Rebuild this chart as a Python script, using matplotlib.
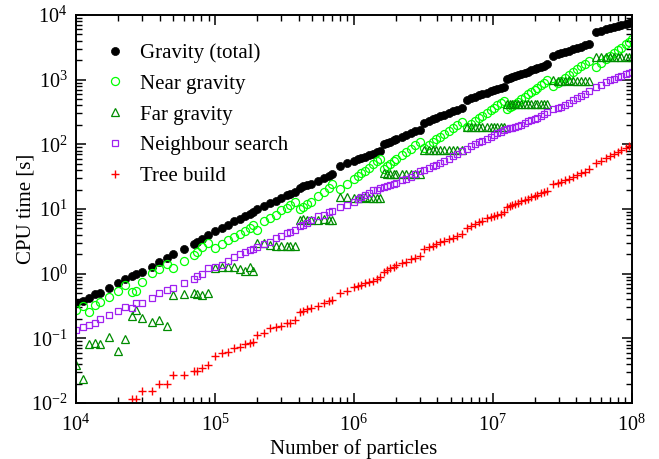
import matplotlib
matplotlib.use("Agg")
import matplotlib.pyplot as plt

plt.rcParams['font.family'] = ['Liberation Serif', 'DejaVu Serif']
plt.rcParams['mathtext.fontset'] = 'custom'
plt.rcParams['mathtext.rm'] = 'Liberation Serif'
plt.rcParams['mathtext.it'] = 'Liberation Serif:italic'
plt.rcParams['mathtext.bf'] = 'Liberation Serif:bold'

# Number of particles (shared by all series)
n_particles = [
    10000, 11180, 12470, 13710, 14890, 17380, 19980, 22550, 25120, 27200,
    30050, 35000, 39850, 45060, 49770, 59750, 70290, 74850, 80520, 89850,
    100400, 112200, 125200, 138300, 150300, 165200, 177500, 187700, 200600, 223800,
    250200, 275000, 300300, 330100, 348500, 374500, 406800, 430500, 459900, 491500,
    554900, 605900, 658200, 696400, 799000, 893300, 996700, 1065000, 1127000, 1196000,
    1279000, 1375000, 1470000, 1552000, 1640000, 1735000, 1833000, 1936000, 2025000, 2225000,
    2390000, 2584000, 2775000, 2980000, 3222000, 3460000, 3698000, 3932000, 4202000, 4491000,
    4824000, 5150000, 5543000, 5955000, 6470000, 6913000, 7424000, 7934000, 8395000, 9016000,
    9634000, 10180000, 10770000, 11370000, 12010000, 12710000, 13270000, 13810000, 14420000, 15150000,
    16030000, 16940000, 17890000, 18930000, 20000000, 20910000, 22090000, 23330000, 24690000, 27280000,
    29430000, 30780000, 32890000, 35330000, 38010000, 40620000, 42900000, 45830000, 49230000, 55050000,
    59790000, 64960000, 69760000, 74550000, 79660000, 84270000, 90530000, 95620000, 100000000,
]

# CPU times [s]
t_gravity = [
    0.356, 0.378, 0.426, 0.485, 0.508, 0.607, 0.710, 0.818, 0.920, 0.989,
    1.074, 1.282, 1.500, 1.730, 1.995, 2.40, 2.90, 3.12, 3.47, 3.96,
    4.62, 5.04, 5.66, 6.46, 7.05, 7.82, 8.51, 9.02, 9.91, 11.1,
    12.2, 13.5, 14.8, 16.4, 17.2, 18.1, 21.5, 22.4, 23.5, 24.7,
    27.0, 29.7, 32.4, 34.7, 46.2, 50.6, 55.3, 58.5, 61.2, 64.3,
    67.8, 71.9, 76.0, 79.4, 100, 105, 110, 116, 120, 130,
    139, 148, 158, 168, 216, 230, 243, 256, 271, 286,
    304, 322, 343, 364, 491, 516, 545, 573, 597, 630,
    662, 690, 719, 750, 782, 1023, 1059, 1091, 1130, 1175,
    1227, 1279, 1337, 1396, 1455, 1507, 1574, 1644, 1718, 2350,
    2483, 2564, 2685, 2825, 2979, 3119, 3243, 3404, 3581, 5420,
    5689, 5984, 6237, 6486, 6745, 6966, 7278, 7516, 7762,
]

t_near = [
    0.274, 0.316, 0.258, 0.328, 0.369, 0.441, 0.546, 0.668, 0.526, 0.546,
    0.752, 1.014, 1.17, 1.41, 1.21, 1.57, 1.95, 2.19, 2.58, 3.01,
    2.47, 2.88, 3.32, 3.69, 4.14, 4.62, 5.13, 5.69, 4.73, 6.64,
    7.18, 8.17, 9.66, 10.3, 11.5, 12.7, 10.0, 10.9, 11.9, 13.0,
    15.7, 18.2, 21.4, 24.0, 20.2, 24.2, 29.0, 32.4, 35.5, 39.1,
    43.7, 49.2, 54.8, 60.0, 41.8, 45.7, 49.9, 54.3, 58.3, 67.9,
    76.0, 86.1, 96.4, 108, 88.3, 98.2, 108, 119, 131, 145,
    161, 177, 198, 220, 188, 207, 231, 255, 278, 309,
    342, 371, 404, 439, 476, 348, 372, 396, 424, 457,
    499, 543, 592, 646, 701, 753, 818, 891, 973, 798,
    897, 962, 1064, 1189, 1330, 1472, 1600, 1774, 1977, 1589,
    1816, 2070, 2323, 2582, 2871, 3141, 3524, 3846, 4207,
]

t_far = [
    0.0387, 0.0235, 0.082, 0.086, 0.082, 0.104, 0.064, 0.099, 0.222, 0.274,
    0.208, 0.181, 0.192, 0.157, 0.47, 0.485, 0.497, 0.48, 0.46, 0.51,
    1.21, 1.26, 1.28, 1.25, 1.18, 1.11, 1.28, 1.11, 3.0, 2.95,
    2.77, 2.71, 2.72, 2.72, 2.71, 2.72, 6.8, 6.9, 6.8, 6.7,
    6.8, 6.9, 6.8, 6.8, 15.5, 15.2, 15.0, 14.8, 15.0, 15.2,
    15.0, 14.8, 15.0, 15.0, 35.5, 35.2, 35.0, 34.8, 35.0, 35.2,
    35.0, 34.8, 35.0, 35.0, 82, 83, 81, 82, 82, 81,
    82, 83, 82, 82, 186, 185, 184, 185, 186, 185,
    184, 185, 185, 186, 185, 428, 425, 422, 424, 426,
    424, 422, 424, 425, 424, 423, 424, 425, 424, 975,
    970, 968, 970, 972, 970, 968, 970, 971, 970, 2230,
    2220, 2215, 2220, 2225, 2220, 2215, 2220, 2222, 2220,
]

t_neigh = [
    0.135, 0.148, 0.161, 0.175, 0.197, 0.230, 0.268, 0.302, 0.292, 0.356,
    0.348, 0.426, 0.497, 0.560, 0.594, 0.726, 0.818, 0.920, 0.989, 1.21,
    1.27, 1.36, 1.59, 1.81, 2.00, 2.19, 2.36, 2.43, 2.57, 2.88,
    3.13, 3.56, 3.88, 4.23, 4.47, 4.69, 5.41, 5.62, 6.14, 6.76,
    7.67, 8.22, 9.02, 9.44, 10.7, 11.7, 13.0, 14.3, 15.5, 16.7,
    17.9, 19.5, 20.0, 20.8, 21.7, 22.4, 23.3, 24.4, 25.6, 28.0,
    29.5, 31.6, 34.7, 38.5, 40.3, 42.4, 45.5, 48.4, 52.0, 56.0,
    60.3, 64.9, 71.0, 77.6, 84.1, 94.2, 101, 107, 113, 122,
    131, 140, 148, 157, 164, 170, 176, 181, 186, 193,
    202, 214, 226, 239, 250, 260, 274, 295, 320, 347,
    369, 382, 410, 443, 481, 522, 558, 608, 667, 757,
    828, 906, 977, 1033, 1094, 1148, 1216, 1274, 1330,
]

# tree build times only visible from the 9th size on (smaller ones are below 1e-2 s)
tree_start = 8
t_tree = [
    0.0115, 0.0115, 0.0155, 0.0155, 0.0195, 0.0195, 0.0271, 0.0271, 0.0316, 0.0316,
    0.0352, 0.0389, 0.0540, 0.0587, 0.0622, 0.0702, 0.0743, 0.0818, 0.0857, 0.0887,
    0.113, 0.122, 0.143, 0.148, 0.155, 0.171, 0.175, 0.192, 0.258, 0.268,
    0.281, 0.291, 0.320, 0.348, 0.382, 0.392, 0.508, 0.546, 0.615, 0.646,
    0.668, 0.710, 0.743, 0.778, 0.813, 0.899, 1.07, 1.14, 1.24, 1.29,
    1.36, 1.45, 1.53, 1.67, 1.73, 1.88, 2.38, 2.56, 2.68, 2.88,
    3.05, 3.24, 3.40, 3.59, 3.83, 4.11, 5.02, 5.46, 5.86, 6.22,
    6.61, 7.18, 7.43, 7.80, 8.09, 8.38, 8.99, 10.6, 11.1, 11.5,
    12.0, 12.5, 13.2, 13.8, 14.5, 15.2, 15.9, 16.5, 17.5, 18.1,
    19.0, 24.4, 25.6, 26.5, 28.1, 29.4, 31.6, 33.6, 35.6, 37.8,
    41.1, 52.1, 56.0, 61.5, 66.1, 71.0, 76.2, 81.8, 86.7, 94.4, 97.7,
]

x_ticks = [1e4, 1e5, 1e6, 1e7, 1e8]
y_ticks = [1e-2, 1e-1, 1e0, 1e1, 1e2, 1e3, 1e4]

fig = plt.figure(figsize=(6.59, 4.59), dpi=100)
ax = fig.add_axes([0.1153, 0.1220, 0.8433, 0.8453])

ax.plot(n_particles, t_gravity, 'o', color='black', ms=5.8, mew=0.5,
        label='Gravity (total)')
ax.plot(n_particles, t_near, 'o', mfc='none', mec='#00ff00', ms=5.8, mew=0.9,
        label='Near gravity')
ax.plot(n_particles, t_far, '^', mfc='none', mec='#008c00', ms=5.3, mew=0.9,
        label='Far gravity')
ax.plot(n_particles, t_neigh, 's', mfc='none', mec='#a020f0', ms=5, mew=0.9,
        label='Neighbour search')
ax.plot(n_particles[tree_start:], t_tree, '+', color='#ff0000', ms=6, mew=1.0,
        label='Tree build')

ax.set_xscale('log')
ax.set_yscale('log')
ax.set_xticks(x_ticks)
ax.set_yticks(y_ticks)
ax.set_xlim(1e4, 1e8)
ax.set_ylim(1e-2, 1e4)

ax.set_xlabel('Number of particles', fontsize=15, labelpad=3)
ax.set_ylabel('CPU time [s]', fontsize=15, labelpad=-3.5)

ax.tick_params(which='both', direction='in', top=True, right=True, labelsize=14.5)
ax.tick_params(which='major', length=7, width=1.1)
ax.tick_params(which='minor', length=4, width=1.0)
ax.tick_params(axis='x', pad=8)
ax.tick_params(axis='y', pad=6)
for sp in ax.spines.values():
    sp.set_linewidth(1.4)

ax.legend(loc='upper left', bbox_to_anchor=(0.0365, 0.949), frameon=False,
          fontsize=15, numpoints=1, handlelength=1.0, handletextpad=0.7,
          labelspacing=0.54, borderaxespad=0)

plt.savefig('out.png', dpi=100)
